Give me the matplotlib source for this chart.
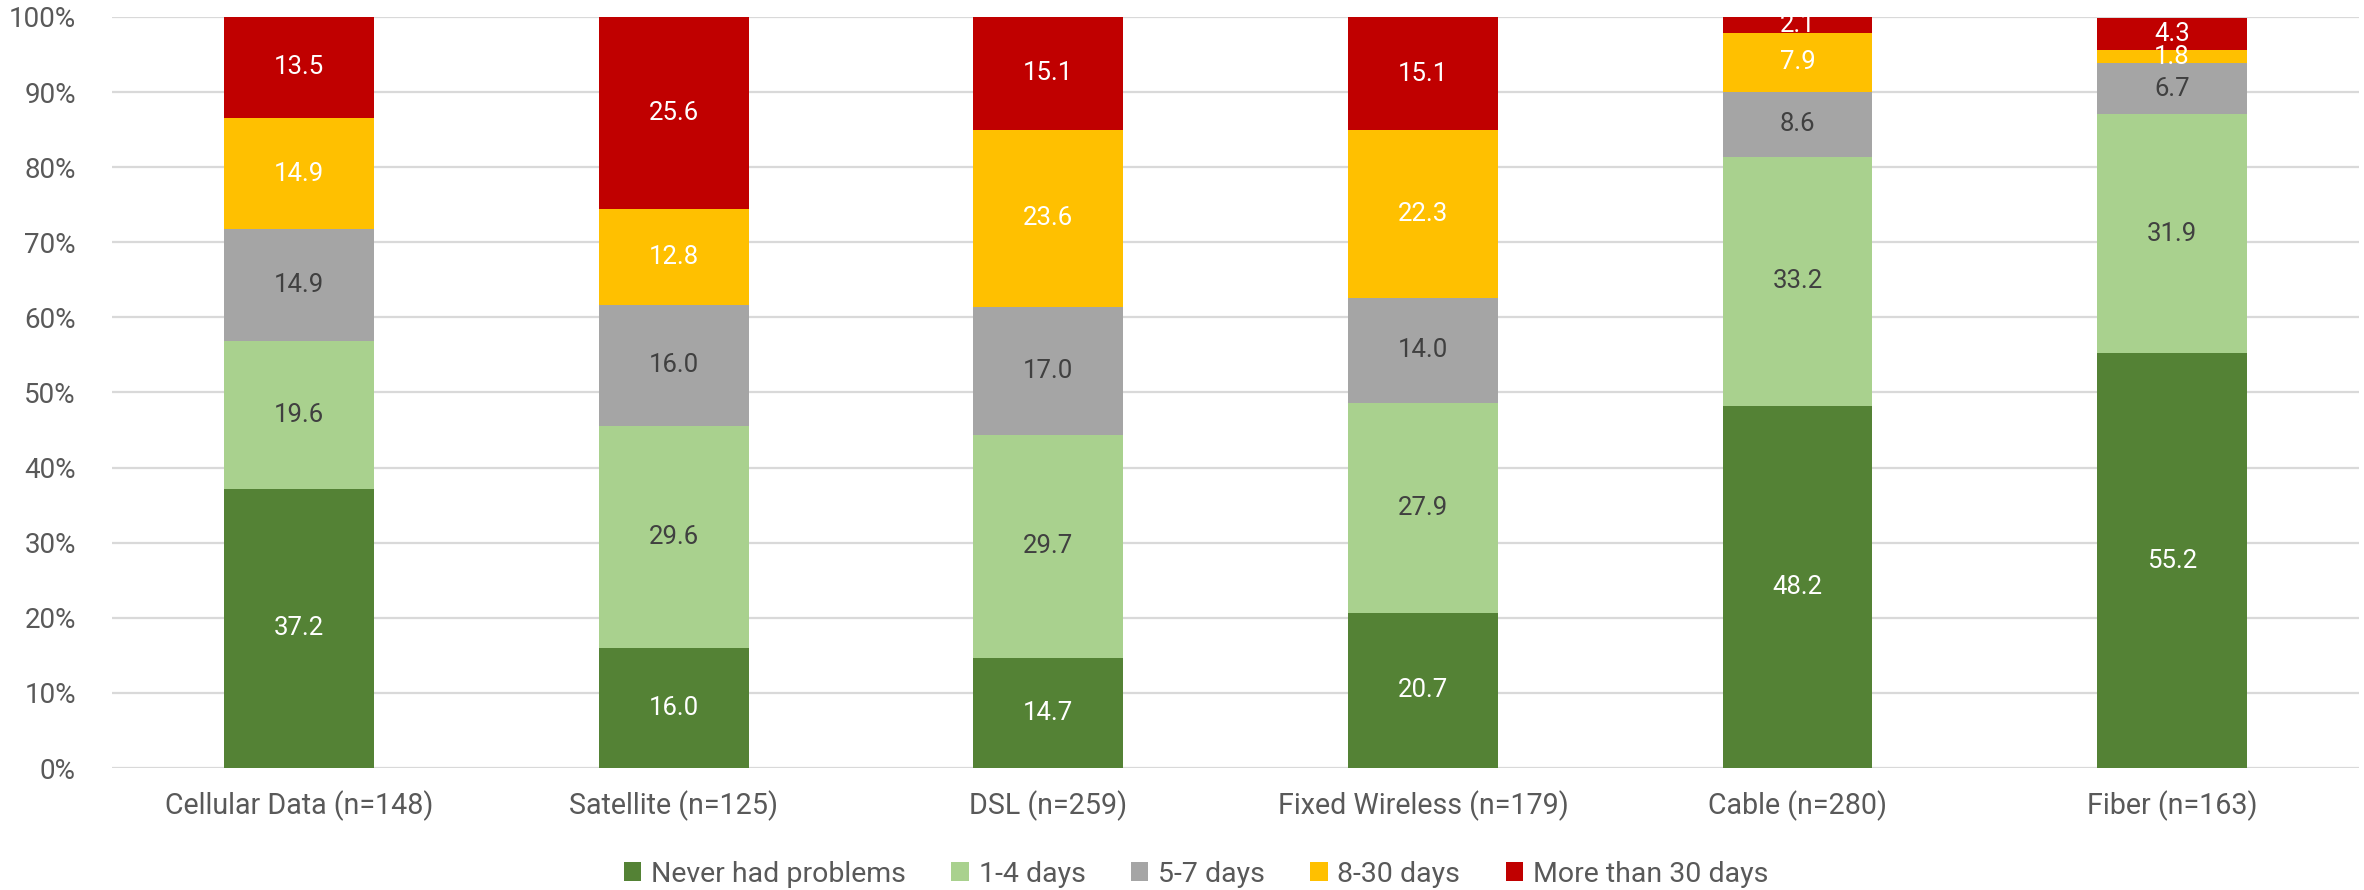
import numpy as np
import matplotlib
matplotlib.use("Agg")
import matplotlib.pyplot as plt
from matplotlib.ticker import PercentFormatter

# ── DATA ─────────────────────────────────────────────────────────────────────

categories = ["Cellular Data (n=148)", "Satellite (n=125)", "DSL (n=259)",
              "Fixed Wireless (n=179)", "Cable (n=280)", "Fiber (n=163)"]

series_names = ["Never had problems", "1-4 days", "5-7 days", "8-30 days", "More than 30 days"]

never_had = [37.2, 16.0, 14.7, 20.7, 48.2, 55.2]
days_1_4 = [19.6, 29.6, 29.7, 27.9, 33.2, 31.9]
days_5_7 = [14.9, 16.0, 17.0, 14.0, 8.6, 6.7]
days_8_30 = [14.9, 12.8, 23.6, 22.3, 7.9, 1.8]
over_30 = [13.5, 25.6, 15.1, 15.1, 2.1, 4.3]

colors = ["#548235", "#A9D18E", "#A5A5A5", "#FFC000", "#C00000"]
label_colors = ["white", "#404040", "#404040", "white", "white"]

# ── PLOT ─────────────────────────────────────────────────────────────────────

plt.rcParams["font.family"] = ["Roboto", "DejaVu Sans"]

fig = plt.figure(figsize=(23.64, 8.9), dpi=100)
ax = fig.add_axes([0.0474, 0.137, 0.9506, 0.844])

x = np.arange(len(categories))
bottom = np.zeros(len(categories))
for name, vals, col, lcol in zip(series_names,
                                 [never_had, days_1_4, days_5_7, days_8_30, over_30],
                                 colors, label_colors):
    vals = np.array(vals)
    ax.bar(x, vals, bottom=bottom, width=0.4, color=col, label=name, zorder=3)
    for xi, b, v in zip(x, bottom, vals):
        ax.text(xi, b + v / 2, f"{v:.1f}", ha="center", va="center",
                fontsize=18.5, color=lcol, zorder=4, clip_on=False)
    bottom += vals

ax.set_xlim(-0.5, len(categories) - 0.5)
ax.set_ylim(0, 100)
ax.set_yticks(np.arange(0, 101, 10))
ax.yaxis.set_major_formatter(PercentFormatter(decimals=0))
ax.set_xticks(x)
ax.set_xticklabels(categories)
ax.tick_params(axis="both", length=0, labelsize=20, labelcolor="#595959")
ax.tick_params(axis="x", labelsize=20.6, pad=16)
ax.tick_params(axis="y", pad=26)
ax.grid(axis="y", color="#D9D9D9", linewidth=1.6, zorder=0)
for s in ax.spines.values():
    s.set_visible(False)
ax.set_facecolor("none")

fig.legend(loc="lower center", bbox_to_anchor=(0.506, -0.026), ncol=5, frameon=False,
           fontsize=20.5, labelcolor="#595959", handlelength=0.6, handleheight=0.65,
           handletextpad=0.35, columnspacing=1.6)

plt.savefig("out.png", dpi=100)
